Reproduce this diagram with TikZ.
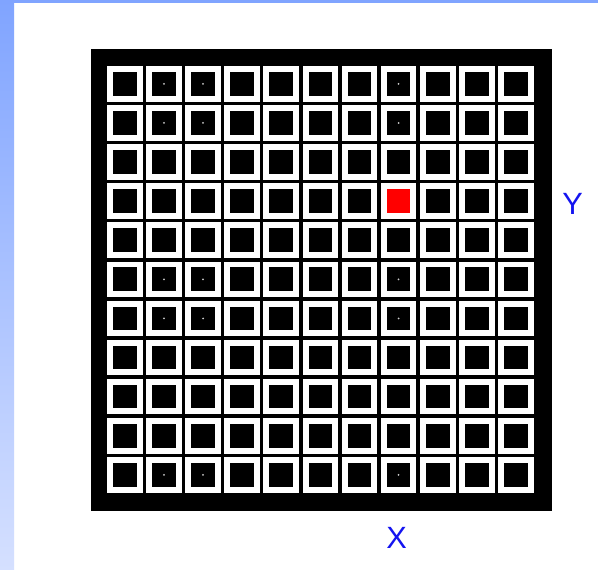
\documentclass[tikz,border=0pt]{standalone}
\usepackage{fontspec}
\setmainfont{Liberation Sans}
\usetikzlibrary{positioning}

\definecolor{bandtop}{RGB}{128,164,255}
\definecolor{bandbot}{RGB}{213,224,255}
\definecolor{axisblue}{RGB}{20,20,240}

\begin{document}
\begin{tikzpicture}[x=0.02cm,y=-0.02cm,
  cell/.style={draw=white,line width=0.12cm,fill=black,minimum size=0.594cm,inner sep=0pt},
  hit/.style={cell,fill=red},
  spot/.style={circle,fill=white!80!black,inner sep=0pt,minimum size=0.04cm},
  axis/.style={text=axisblue,font=\fontsize{17.5}{20}\selectfont,inner sep=0pt}]
  \useasboundingbox (0,0) rectangle (598,570);
  % --- background bands ---
  \fill[white] (0,0) rectangle (598,570);
  \shade[top color=bandtop,bottom color=bandbot] (0,0) rectangle (14,570);
  \fill[bandtop] (0,0) rectangle (598,3);
  % --- frame ---
  \fill[black] (91,49) rectangle (552,511);
  % --- 11 x 11 cells ---
  \foreach \r in {1,...,11}{
    \foreach \c in {1,...,11}{
      \node[cell] (c-\r-\c) at ({124.85+39.1*(\c-1)},{83.85+39.1*(\r-1)}) {};
    }
  }
  \node[hit] (target) at (c-4-8) {};
  % --- spots ---
  \foreach \r in {1,2,6,7,11}{
    \foreach \c in {2,3,8}{
      \node[spot] at (c-\r-\c) {};
    }
  }
  % --- axis labels ---
  \node[axis] (ylab) at (572.7,204) {Y};
  \node[axis] (xlab) at (396.7,538) {X};
\end{tikzpicture}
\end{document}
